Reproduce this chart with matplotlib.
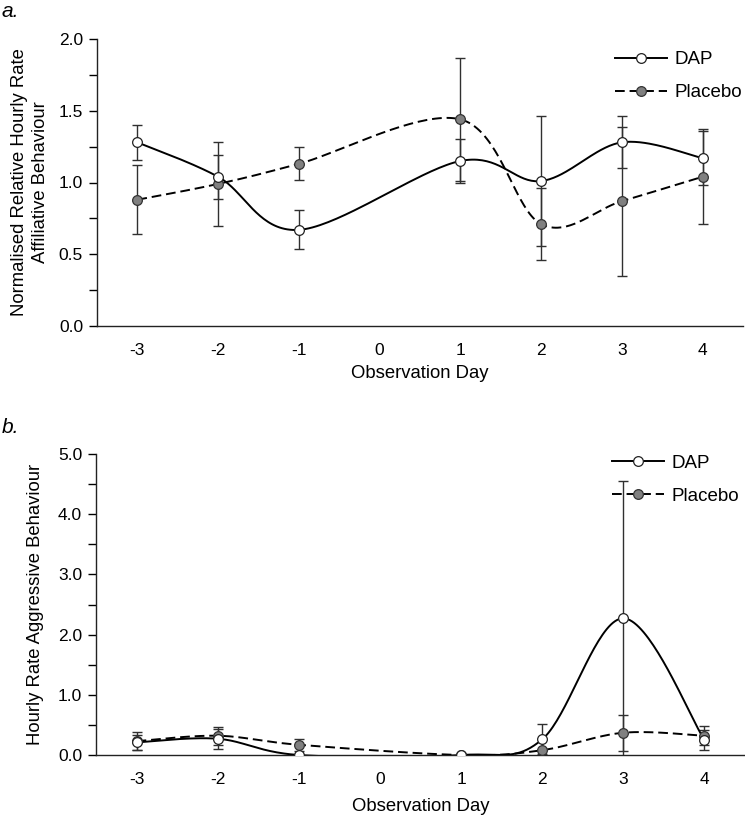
import numpy as np
import matplotlib.pyplot as plt
from matplotlib.ticker import MultipleLocator

plt.rcParams['font.family'] = ['Liberation Sans', 'DejaVu Sans']

# ----------------------------
# Data
# ----------------------------
days = [-3, -2, -1, 1, 2, 3, 4]
tick_days = [-3, -2, -1, 0, 1, 2, 3, 4]

# a. affiliative behaviour
aff_dap = [1.28, 1.04, 0.67, 1.15, 1.01, 1.28, 1.17]
aff_dap_err = [0.12, 0.155, 0.135, 0.15, 0.45, 0.18, 0.19]
aff_pla = [0.88, 0.99, 1.13, 1.44, 0.71, 0.87, 1.04]
aff_pla_err = [0.24, 0.29, 0.115, 0.43, 0.25, 0.52, 0.33]

# b. aggressive behaviour
agg_dap = [0.21, 0.27, 0.0, 0.0, 0.26, 2.27, 0.25]
agg_dap_err = [0.13, 0.17, 0.0, 0.0, 0.25, 2.28, 0.17]
agg_pla = [0.23, 0.32, 0.17, 0.0, 0.08, 0.37, 0.32]
agg_pla_err = [0.15, 0.15, 0.10, 0.0, 0.0, 0.30, 0.16]


def smooth(x, y, n=40):
    # Catmull-Rom style bezier smoothing, similar to a spreadsheet "smoothed line"
    pts = np.column_stack([x, y]).astype(float)
    out = []
    for i in range(len(pts) - 1):
        p0 = pts[i - 1] if i > 0 else pts[i]
        p1 = pts[i]
        p2 = pts[i + 1]
        p3 = pts[i + 2] if i + 2 < len(pts) else pts[i + 1]
        c1 = p1 + (p2 - p0) / 6
        c2 = p2 - (p3 - p1) / 6
        t = np.linspace(0, 1, n)[:, None]
        seg = ((1 - t) ** 3 * p1 + 3 * (1 - t) ** 2 * t * c1
               + 3 * (1 - t) * t ** 2 * c2 + t ** 3 * p2)
        out.append(seg if i == 0 else seg[1:])
    out = np.vstack(out)
    return out[:, 0], out[:, 1]


W, H = 745, 815
fig = plt.figure(figsize=(W / 100, H / 100), dpi=100)

ax_a = fig.add_axes([97 / W, 1 - 326 / H, (743 - 97) / W, (326 - 39) / H])
ax_b = fig.add_axes([96 / W, 1 - 755 / H, (745 - 96) / W, (755 - 454) / H])

dash = (0, (5, 2.5))
err_kw = dict(fmt='none', ecolor='#303030', elinewidth=1.0, capsize=3.8, capthick=1.0, zorder=2)


def draw(ax, dap, dap_err, pla, pla_err, leg_xy):
    ax.errorbar(days, pla, yerr=pla_err, **err_kw)
    ax.errorbar(days, dap, yerr=dap_err, **err_kw)
    sx, sy = smooth(days, pla)
    ax.plot(sx, sy, color='black', lw=1.4, linestyle=dash, zorder=3)
    sx, sy = smooth(days, dap)
    ax.plot(sx, sy, color='black', lw=1.4, zorder=3)
    ax.plot(days, pla, 'o', ms=7, mfc='#808080', mec='#333333', mew=0.9, zorder=4)
    ax.plot(days, dap, 'o', ms=7, mfc='white', mec='#222222', mew=0.9, zorder=5)

    # legend handles
    h1, = ax.plot([], [], color='black', lw=1.4, marker='o', ms=7, mfc='white', mec='#222222', mew=0.9)
    h2, = ax.plot([], [], color='black', lw=1.4, linestyle=dash, marker='o', ms=7,
                  mfc='#808080', mec='#333333', mew=0.9)
    ax.legend([h1, h2], ['DAP', 'Placebo'], loc='upper left', bbox_to_anchor=leg_xy,
              frameon=False, fontsize=13.5, handlelength=2.75, handletextpad=0.4,
              labelspacing=0.85, borderpad=0, borderaxespad=0)

    ax.set_xlim(-3.5, 4.5)
    ax.set_xticks(tick_days)
    ax.set_xticklabels([str(d) for d in tick_days])
    ax.tick_params(axis='x', length=0, pad=12, labelsize=12.5)
    ax.tick_params(axis='y', which='major', length=6, width=1, direction='out', labelsize=12.5, pad=4)
    ax.tick_params(axis='y', which='minor', length=6, width=1, direction='out')
    for s in ['top', 'right']:
        ax.spines[s].set_visible(False)
    for s in ['left', 'bottom']:
        ax.spines[s].set_linewidth(1.0)
        ax.spines[s].set_color('#222222')


# --- a ---
draw(ax_a, aff_dap, aff_dap_err, aff_pla, aff_pla_err, (0.802, 0.958))
ax_a.set_ylim(0, 2.0)
ax_a.yaxis.set_major_locator(MultipleLocator(0.5))
ax_a.yaxis.set_minor_locator(MultipleLocator(0.25))
ax_a.yaxis.set_major_formatter('{x:.1f}')
ax_a.set_xlabel('Observation Day', fontsize=13.3, labelpad=5)
ax_a.set_ylabel('Normalised Relative Hourly Rate\nAffiliative Behaviour', fontsize=13.3,
                labelpad=7, linespacing=1.3)

# --- b ---
draw(ax_b, agg_dap, agg_dap_err, agg_pla, agg_pla_err, (0.795, 0.998))
ax_b.set_ylim(0, 5.0)
ax_b.yaxis.set_major_locator(MultipleLocator(1.0))
ax_b.yaxis.set_minor_locator(MultipleLocator(0.5))
ax_b.yaxis.set_major_formatter('{x:.1f}')
ax_b.set_xlabel('Observation Day', fontsize=13.3, labelpad=8)
ax_b.set_ylabel('Hourly Rate Aggressive Behaviour', fontsize=13.3, labelpad=10)

fig.text(0.002, 0.997, 'a.', style='italic', fontsize=15, va='top', ha='left')
fig.text(0.002, 0.487, 'b.', style='italic', fontsize=15, va='top', ha='left')

fig.savefig('out.png', dpi=100)
